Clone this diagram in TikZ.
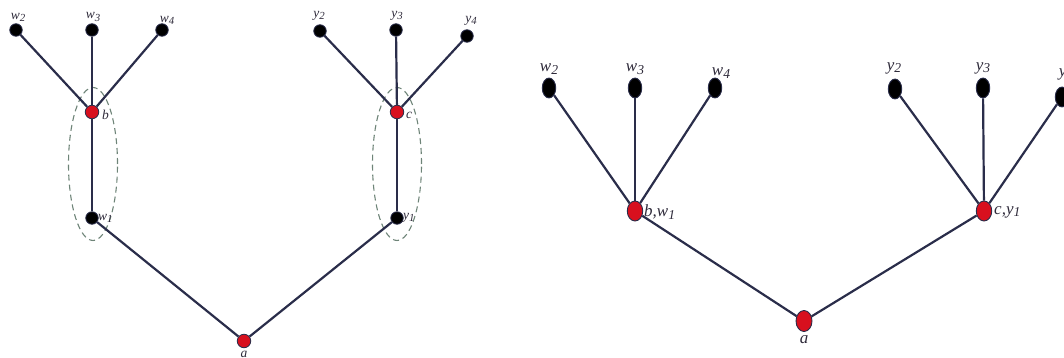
\documentclass[tikz,border=0pt]{standalone}
\usepackage{fontspec}
\setmainfont{Liberation Serif}
\usetikzlibrary{shapes.geometric}
\begin{document}
\begin{tikzpicture}[x=1pt,y=-1pt,
  edge/.style={draw=edgecol,line width=2.2pt},
  leaf/.style={circle,draw=edgecol,fill=black,line width=0.8pt,inner sep=0pt,minimum size=12.5pt},
  hub/.style={circle,draw=edgecol,fill=hubred,line width=0.8pt,inner sep=0pt,minimum size=13.5pt},
  bigleaf/.style={ellipse,draw=edgecol,fill=black,line width=0.9pt,inner sep=0pt,minimum width=13.5pt,minimum height=20pt},
  bighub/.style={ellipse,draw=edgecol,fill=hubred,line width=0.9pt,inner sep=0pt,minimum width=15.5pt,minimum height=20pt},
  lab/.style={text=labcol,font=\itshape\fontsize{13.5}{13.5}\selectfont,inner sep=0pt},
  biglab/.style={text=labcol,font=\itshape\fontsize{17}{17}\selectfont,inner sep=0pt},
  group/.style={draw=groupcol,dash pattern=on 6pt off 4pt,line width=1.1pt}]
\definecolor{edgecol}{HTML}{2A2D4A}
\definecolor{hubred}{HTML}{D8101E}
\definecolor{labcol}{HTML}{2E2A3A}
\definecolor{groupcol}{HTML}{6E8478}
\newcommand{\sub}[1]{\raisebox{-0.35ex}{\scalebox{0.8}{#1}}}
\useasboundingbox (0,0) rectangle (1064,358);
\clip (0,0) rectangle (1064,358);

% ---- left tree ----
\node[ellipse,group,minimum width=49pt,minimum height=153pt] (gb) at (93,164) {};
\node[ellipse,group,minimum width=49pt,minimum height=153pt] (gc) at (397,164) {};

\node[leaf] (w2) at (16,30) {};
\node[leaf] (w3) at (92,30) {};
\node[leaf] (w4) at (162,30) {};
\node[hub]  (b)  at (92,112) {};
\node[leaf] (w1) at (92,218) {};
\node[hub]  (a)  at (244,341) {};
\node[leaf] (y2) at (320,31) {};
\node[leaf] (y3) at (396,30) {};
\node[leaf] (y4) at (467,36) {};
\node[hub]  (c)  at (397,112) {};
\node[leaf] (y1) at (397,218) {};

\draw[edge] (w2) -- (b);
\draw[edge] (w3) -- (b);
\draw[edge] (w4) -- (b);
\draw[edge] (b) -- (w1);
\draw[edge] (w1) -- (a);
\draw[edge] (y2) -- (c);
\draw[edge] (y3) -- (c);
\draw[edge] (y4) -- (c);
\draw[edge] (c) -- (y1);
\draw[edge] (y1) -- (a);

\node[lab] (lw2) at (18,17) {w\sub{2}};
\node[lab] (lw3) at (93,17) {w\sub{3}};
\node[lab] (lw4) at (167,20) {w\sub{4}};
\node[lab,anchor=west] (lb) at (102,115) {b};
\node[lab,anchor=west] (lw1) at (98,218) {w\sub{1}};
\node[lab] (la) at (244,354) {a};
\node[lab] (ly2) at (319,16) {y\sub{2}};
\node[lab] (ly3) at (397,16) {y\sub{3}};
\node[lab] (ly4) at (471,21) {y\sub{4}};
\node[lab,anchor=west] (lc) at (406,115) {c};
\node[lab,anchor=west] (ly1) at (403,218) {y\sub{1}};

% ---- right tree (contracted) ----
\node[bigleaf] (W2) at (549,88) {};
\node[bigleaf] (W3) at (635,88) {};
\node[bigleaf] (W4) at (715,88) {};
\node[bighub]  (BW) at (635,211) {};
\node[bigleaf] (Y2) at (895,89) {};
\node[bigleaf] (Y3) at (983,88) {};
\node[bigleaf] (Y4) at (1062,97) {};
\node[bighub]  (CY) at (984,211) {};
\node[bighub,minimum width=16pt,minimum height=21pt] (A) at (804,321) {};

\draw[edge] (W2) -- (BW);
\draw[edge] (W3) -- (BW);
\draw[edge] (W4) -- (BW);
\draw[edge] (BW) -- (A);
\draw[edge] (Y2) -- (CY);
\draw[edge] (Y3) -- (CY);
\draw[edge] (Y4) -- (CY);
\draw[edge] (CY) -- (A);

\node[biglab] (LW2) at (549,69) {w\sub{2}};
\node[biglab] (LW3) at (635,69) {w\sub{3}};
\node[biglab] (LW4) at (721,73) {w\sub{4}};
\node[biglab,anchor=west] (LBW) at (644,212) {b,w\sub{1}};
\node[biglab] (LY2) at (894,68) {y\sub{2}};
\node[biglab] (LY3) at (983,68) {y\sub{3}};
\node[biglab] (LY4) at (1066,74) {y\sub{4}};
\node[biglab,anchor=west] (LCY) at (994,212) {c,y\sub{1}};
\node[biglab] (LA) at (804,340) {a};
\end{tikzpicture}
\end{document}
